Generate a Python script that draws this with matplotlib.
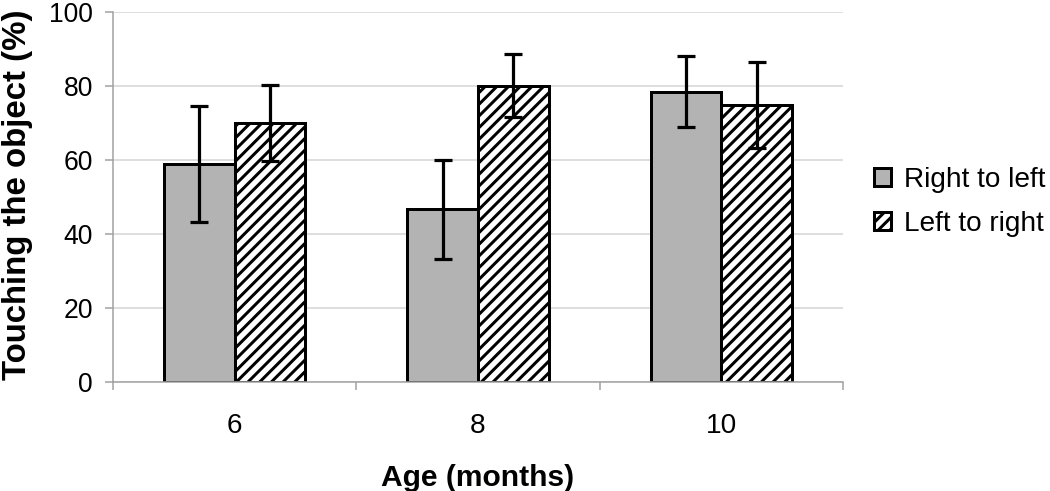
import numpy as np
import matplotlib
matplotlib.use("Agg")
import matplotlib.pyplot as plt

# Data
ages = ["6", "8", "10"]
rightToLeft = [58.9, 46.7, 78.5]
rightToLeftErr = [15.6, 13.4, 9.7]
leftToRight = [69.9, 80.1, 74.9]
leftToRightErr = [10.3, 8.5, 11.6]
seriesNames = ["Right to left", "Left to right"]
yTicks = [0, 20, 40, 60, 80, 100]

# Low dpi so the hatch spacing comes out close to the reference
DPI = 70
W, H = 1050, 491

def px(v):
    # pixels -> points at this dpi
    return v * 72.0 / DPI

plt.rcParams['font.family'] = ['Liberation Sans', 'DejaVu Sans']
plt.rcParams['hatch.linewidth'] = px(3)

fig = plt.figure(figsize=(W / DPI, H / DPI), dpi=DPI)
ax = fig.add_axes([113 / W, 1 - 382 / H, (843 - 113) / W, (382 - 12) / H])

x = np.arange(len(ages))
barWidth = 0.29
edgeW = px(3)
errKw = dict(ecolor='black', elinewidth=px(3.2), capsize=px(9), capthick=px(3.2))

ax.bar(x - barWidth / 2, rightToLeft, barWidth, yerr=rightToLeftErr,
       color='#b3b3b3', edgecolor='black', linewidth=edgeW,
       error_kw=errKw, label=seriesNames[0], zorder=2)
ax.bar(x + barWidth / 2, leftToRight, barWidth, yerr=leftToRightErr,
       color='white', edgecolor='black', linewidth=edgeW, hatch='//',
       error_kw=errKw, label=seriesNames[1], zorder=2)

ax.set_xlim(-0.5, len(ages) - 0.5)
ax.set_ylim(0, 100)
ax.set_yticks(yTicks)
ax.set_xticks(x)
ax.set_xticklabels(ages)
ax.set_xticks(np.arange(len(ages) + 1) - 0.5, minor=True)

ax.yaxis.grid(True, color='#d4d4d4', linewidth=px(1.5), zorder=0)
ax.set_axisbelow(True)

for side in ['top', 'right']:
    ax.spines[side].set_visible(False)
for side in ['left', 'bottom']:
    ax.spines[side].set_color('#a0a0a0')
    ax.spines[side].set_linewidth(px(1.5))

ax.tick_params(axis='y', direction='out', length=px(8), width=px(1.5),
               color='#a0a0a0', labelsize=px(26.5), pad=px(12))
ax.tick_params(axis='x', which='major', length=0, labelsize=px(28), pad=px(31))
ax.tick_params(axis='x', which='minor', direction='out', length=px(8),
               width=px(1.5), color='#a0a0a0')

ax.set_xlabel("Age (months)", fontsize=px(30), fontweight='bold')
ax.xaxis.set_label_coords(0.5, -0.222)
ax.xaxis.label.set_va('top')
ax.set_ylabel("Touching the object (%)", fontsize=px(33), fontweight='bold')
ax.yaxis.set_label_coords(-0.109, 0.505)

ax.legend(loc='center left', bbox_to_anchor=(874 / W, 1 - 202 / H),
          bbox_transform=fig.transFigure, frameon=False, fontsize=px(28),
          handlelength=0.62, handleheight=0.62, handletextpad=0.45,
          labelspacing=0.65, borderpad=0, borderaxespad=0)

fig.savefig("out.png", dpi=DPI)
